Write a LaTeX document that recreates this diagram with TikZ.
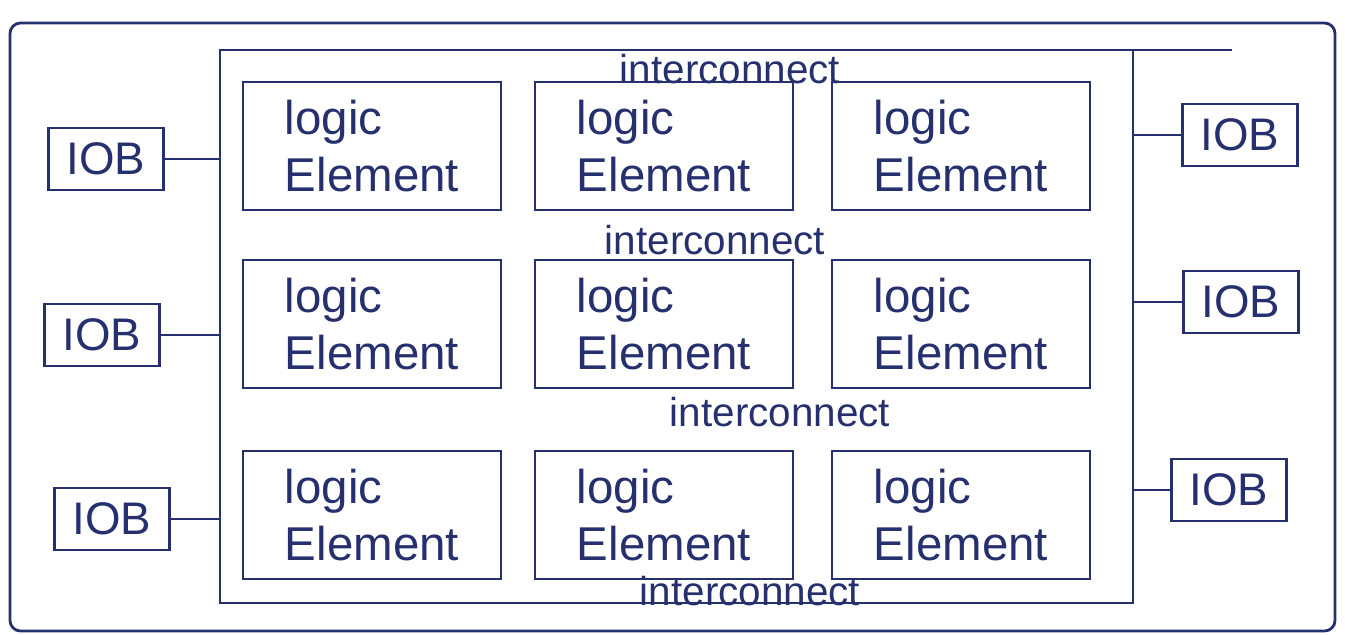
\documentclass[tikz,border=0pt]{standalone}
\usepackage{fontspec}
\setmainfont{Liberation Sans}
\definecolor{ink}{HTML}{27306E}

\tikzset{
  lebox/.style={draw, minimum width=2.58cm, minimum height=1.28cm, align=left,
    font=\fontsize{13.5}{16}\selectfont},
  iobox/.style={draw, minimum width=1.15cm, minimum height=0.62cm,
    font=\fontsize{13}{15}\selectfont},
  netlbl/.style={font=\fontsize{11.5}{13}\selectfont, inner sep=1pt},
  frame/.style={draw, outer sep=0pt},
}

\begin{document}
\begin{tikzpicture}[ink, line width=0.8pt, text=ink]
\useasboundingbox (0,0) rectangle (13.45,6.34);

% chip outline and routing fabric
\node[frame, rounded corners=3pt, minimum width=13.25cm, minimum height=6.08cm] (chip) at (6.725,3.07) {};
\node[frame, minimum width=9.13cm, minimum height=5.53cm] (fabric) at (6.765,3.075) {};
\draw (fabric.north east) -- ++(0.99,0);

% 3x3 array of logic elements
\foreach \y [count=\r] in {4.88,3.10,1.19}
  \foreach \x [count=\c] in {3.72,6.64,9.61}
    \node[lebox] (le\r\c) at (\x,\y) {logic\\Element};

% interconnect between the rows
\node[netlbl] (ic1) at (7.30,5.65) {interconnect};
\node[netlbl] (ic2) at (7.15,3.94) {interconnect};
\node[netlbl] (ic3) at (7.80,2.22) {interconnect};
\node[netlbl] (ic4) at (7.50,0.43) {interconnect};

% I/O blocks, left and right
\foreach \x/\y [count=\i] in {1.06/4.75, 1.02/2.99, 1.12/1.15} {
  \node[iobox] (iobl\i) at (\x,\y) {IOB};
  \draw (iobl\i.east) -- (iobl\i.east -| fabric.west);
}
\foreach \x/\y [count=\i] in {12.40/4.99, 12.41/3.32, 12.29/1.44} {
  \node[iobox] (iobr\i) at (\x,\y) {IOB};
  \draw (iobr\i.west) -- (iobr\i.west -| fabric.east);
}
\end{tikzpicture}
\end{document}
